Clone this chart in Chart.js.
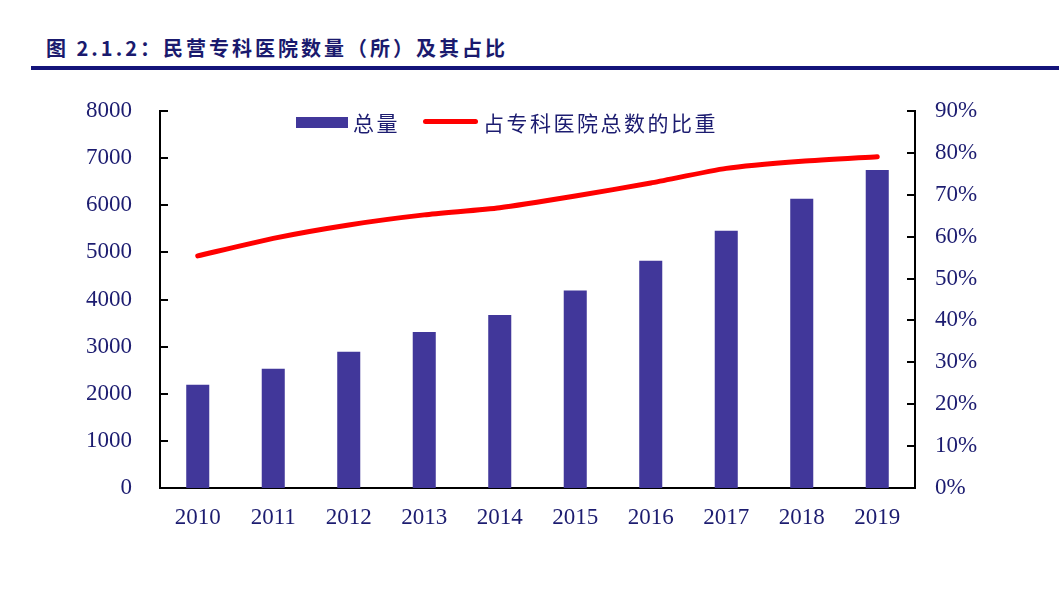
<!DOCTYPE html>
<html lang="zh">
  <head>
    <meta charset="utf-8">
    <title>民营专科医院数量</title>
    <style>
      body { margin: 0; background: #fff; }
      #title { position: absolute; left: 46px; top: 33px; font: bold 20px "Noto Sans CJK SC"; color: #1a1a6e; letter-spacing: 3px; }
      #rule { position: absolute; left: 31px; top: 66px; width: 1028px; height: 4px; background: #14147a; }
      .legend { position: absolute; top: 107px; font: 21px "Noto Sans CJK SC"; color: #1c1c70; letter-spacing: 2.5px; }
      .box { position: absolute; }
      #wrap { position: absolute; left: 0; top: 0; width: 1059px; height: 592px; }
      #err { position: absolute; left: 10px; top: 560px; font: 12px sans-serif; color: #c00; }
    </style>
  </head>
  <body>
    <div id="title">图 2.1.2：民营专科医院数量（所）及其占比</div>
    <div id="rule"></div>
    <div id="wrap"><canvas id="chart"></canvas></div>
    <div class="box" style="left:296px;top:117px;width:52px;height:11px;background:#41379a"></div>
    <div class="legend" style="left:353px">总量</div>
    <div class="box" style="left:423px;top:119px;width:55px;height:5px;border-radius:3px;background:#f00"></div>
    <div class="legend" style="left:483px">占专科医院总数的比重</div>
    <div id="err"></div>
    <script src="https://cdn.jsdelivr.net/npm/chart.js@4.4.1/dist/chart.umd.min.js"></script>
    <script>
      const years = ['2010', '2011', '2012', '2013', '2014', '2015', '2016', '2017', '2018', '2019'];
      const totals = [2190, 2530, 2890, 3310, 3670, 4190, 4820, 5460, 6140, 6750];
      const shares = [0.554, 0.596, 0.628, 0.652, 0.669, 0.697, 0.728, 0.763, 0.780, 0.791];

      const navy = '#1c1c70';
      const tickFont = { family: 'Liberation Serif', size: 23 };

      // short tick marks pointing inwards on both value axes
      const innerTicks = {
        id: 'innerTicks',
        afterDatasetsDraw(chart) {
          try {
            const ctx = chart.ctx;
            ctx.save();
            ctx.strokeStyle = '#000';
            ctx.lineWidth = 2;
            for (const id of ['y', 'y2']) {
              const sc = chart.scales[id];
              const x = id === 'y' ? chart.chartArea.left : chart.chartArea.right;
              const dir = id === 'y' ? 1 : -1;
              sc.ticks.forEach(t => {
                const py = Math.round(sc.getPixelForValue(t.value));
                ctx.beginPath();
                ctx.moveTo(x, py);
                ctx.lineTo(x + dir * 8, py);
                ctx.stroke();
              });
            }
            ctx.restore();
          } catch (e) {
            document.getElementById('err').textContent = e.message;
          }
        }
      };

      new Chart(document.getElementById('chart'), {
        data: {
          labels: years,
          datasets: [
            {
              type: 'line',
              label: '占专科医院总数的比重',
              data: shares,
              yAxisID: 'y2',
              borderColor: '#ff0000',
              borderWidth: 5,
              borderCapStyle: 'round',
              pointRadius: 0,
              tension: 0.2,
              order: 0
            },
            {
              type: 'bar',
              label: '总量',
              data: totals,
              yAxisID: 'y',
              backgroundColor: '#41379a',
              barPercentage: 0.305,
              categoryPercentage: 1,
              order: 1
            }
          ]
        },
        options: {
          responsive: true,
          maintainAspectRatio: false,
          animation: false,
          layout: { padding: { top: 111, bottom: 58, left: 0, right: 0 } },
          plugins: { legend: { display: false }, tooltip: { enabled: false } },
          scales: {
            x: {
              grid: { display: false },
              border: { color: '#000', width: 2 },
              ticks: { color: navy, font: tickFont, padding: 8 },
              afterFit(s) { s.height = 46; }
            },
            y: {
              position: 'left',
              min: 0, max: 8000,
              grid: { display: false },
              border: { color: '#000', width: 2 },
              ticks: { stepSize: 1000, color: navy, font: tickFont, padding: 20, callback: v => String(v) },
              afterFit(s) { s.width = 160; }
            },
            y2: {
              position: 'right',
              min: 0, max: 0.9,
              grid: { display: false },
              border: { color: '#000', width: 2 },
              ticks: {
                stepSize: 0.1, color: navy, font: tickFont, padding: 12,
                callback: v => Math.round(v * 100) + '%'
              },
              afterFit(s) { s.width = 144; }
            }
          }
        },
        plugins: [innerTicks]
      });
    </script>
  </body>
</html>
